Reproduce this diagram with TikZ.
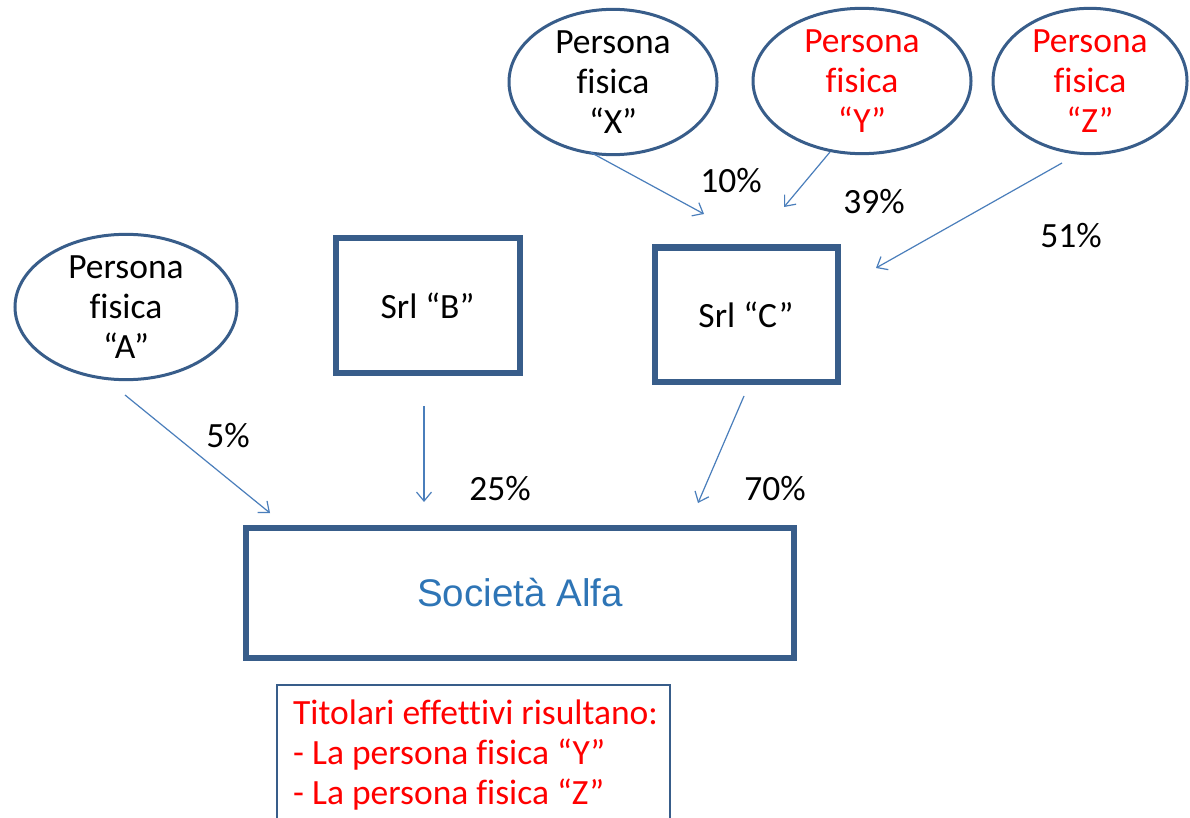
\documentclass[tikz,border=0pt]{standalone}
\usepackage{fontspec}
\setmainfont{Carlito}[Ligatures={NoCommon}]
\newfontfamily\alfafont{Liberation Sans}
\usetikzlibrary{shapes.geometric,arrows.meta}
\definecolor{edge}{HTML}{385D8A}
\definecolor{link}{HTML}{4A7EBB}
\definecolor{alfablue}{HTML}{2E75B6}
\definecolor{owner}{HTML}{FF0000}
\begin{document}
\begin{tikzpicture}[x=1pt,y=-1pt,
  txt/.style={font=\fontsize{35.5}{40}\selectfont},
  person/.style={txt, ellipse, draw=edge, line width=3pt, align=center, inner sep=0pt},
  company/.style={txt, rectangle, draw=edge, line width=6pt, align=center, inner sep=0pt},
  stake/.style={draw=link, line width=1.2pt, -{Straight Barb[length=9pt,width=15pt]}},
  pct/.style={txt, inner sep=0pt}]
\fill[white] (0,0) rectangle (1190,818);
\useasboundingbox (0,0) rectangle (1190,818);
\clip (0,0) rectangle (1190,818);

% natural persons
\node[person, minimum width=208pt, minimum height=138pt] (X) at (613,82) {Persona\\fisica\\“X”};
\node[person, text=owner, minimum width=218pt, minimum height=136pt] (Y) at (862,81) {Persona\\fisica\\“Y”};
\node[person, text=owner, minimum width=194pt, minimum height=136pt] (Z) at (1090,81) {Persona\\fisica\\“Z”};
\node[person, minimum width=222pt, minimum height=140pt] (A) at (126,307) {Persona\\fisica\\“A”};

% companies
\node[company, minimum width=184pt, minimum height=134pt] (B) at (427.5,305.5) {Srl “B”};
\node[company, minimum width=183pt, minimum height=134pt] (C) at (746,314.5) {Srl “C”};
\node[company, minimum width=548pt, minimum height=130pt, text=alfablue,
      font=\alfafont\fontsize{38.5}{44}\selectfont] (alfa) at (520,593) {Società Alfa};

% beneficial owners note
\draw[edge, line width=2.5pt] (277,840) |- (670,685) -- (670,840);
\node[txt, text=owner, anchor=north west, align=left, inner sep=0pt] (owners) at (293,700)
  {Titolari effettivi risultano:\\- La persona fisica “Y”\\- La persona fisica “Z”};

% ends of the shareholding arrows
\coordinate (xs) at (590,152);  \coordinate (xe) at (704,214);
\coordinate (ys) at (830,152);  \coordinate (ye) at (784,207);
\coordinate (zs) at (1062,163); \coordinate (ze) at (876,268);
\coordinate (as) at (125,395);  \coordinate (ae) at (270,513);
\coordinate (bs) at (424,406);  \coordinate (be) at (424,502);
\coordinate (cs) at (744,396);  \coordinate (ce) at (698,503);

\draw[stake] (xs) -- (xe);
\draw[stake] (ys) -- (ye);
\draw[stake] (zs) -- (ze);
\draw[stake] (as) -- (ae);
\draw[stake] (bs) -- (be);
\draw[stake] (cs) -- (ce);

% percentages
\node[pct] (px) at (731,181) {10\%};
\node[pct] (py) at (874,202) {39\%};
\node[pct] (pz) at (1071,236) {51\%};
\node[pct] (pa) at (228,436) {5\%};
\node[pct] (pb) at (500,489) {25\%};
\node[pct] (pc) at (775,489) {70\%};
\end{tikzpicture}
\end{document}
